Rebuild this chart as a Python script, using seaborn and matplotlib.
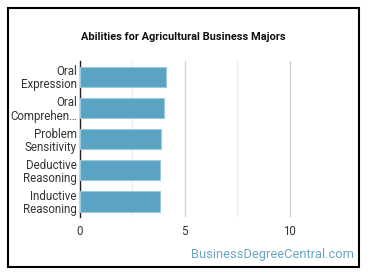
import numpy as np
import pandas as pd
import matplotlib
matplotlib.use("Agg")
import matplotlib.pyplot as plt
import seaborn as sns
from matplotlib.ticker import MultipleLocator
from matplotlib.patches import Rectangle

abilities = ["Oral\nExpression", "Oral\nComprehen\u2026", "Problem\nSensitivity",
             "Deductive\nReasoning", "Inductive\nReasoning"]
scores = [4.12, 4.0, 3.88, 3.81, 3.81]
x_ticks = [0, 5, 10]

sns.set_style("white")
plt.rcParams['font.family'] = ['Roboto', 'DejaVu Sans']

df = pd.DataFrame({'ability': abilities, 'score': scores})

fig = plt.figure(figsize=(3.7, 2.78), dpi=100)
ax = fig.add_axes([0.215, 0.219, 0.681, 0.561])

sns.barplot(data=df, x='score', y='ability', color='#5ba3c3', saturation=1,
            width=0.65, edgecolor='#9ccbe0', linewidth=0.8, ax=ax, zorder=3)

ax.set_xlim(0, 12)
ax.xaxis.set_minor_locator(MultipleLocator(2.5))
ax.set_xticks(x_ticks)
ax.grid(axis='x', which='major', color='#cfcfcf', linewidth=0.9, zorder=0)
ax.grid(axis='x', which='minor', color='#ececec', linewidth=0.9, zorder=0)
ax.set_xlabel('')
ax.set_ylabel('')
for s in ['top', 'right', 'bottom']:
    ax.spines[s].set_visible(False)
ax.spines['left'].set_color('#222222')
ax.spines['left'].set_linewidth(1.0)
ax.tick_params(axis='both', which='both', length=0, labelsize=8.3, colors='#333333')
ax.tick_params(axis='x', pad=6)
ax.tick_params(axis='y', pad=2)
for lab in ax.get_yticklabels():
    lab.set_linespacing(1.02)

fig.text(0.495, 0.868, 'Abilities for Agricultural Business Majors', ha='center',
         va='center', fontsize=7.9, fontweight='bold', color='#111111')
fig.text(0.958, 0.086, 'BusinessDegreeCentral.com', ha='right', va='center',
         fontsize=9.3, color='#6aa6c4')

fig.patches.append(Rectangle((8 / 370, 1 - 267 / 278), 351 / 370, 259 / 278,
                             transform=fig.transFigure, fill=False,
                             edgecolor='black', linewidth=1.5))

fig.savefig('out.png', dpi=100)
